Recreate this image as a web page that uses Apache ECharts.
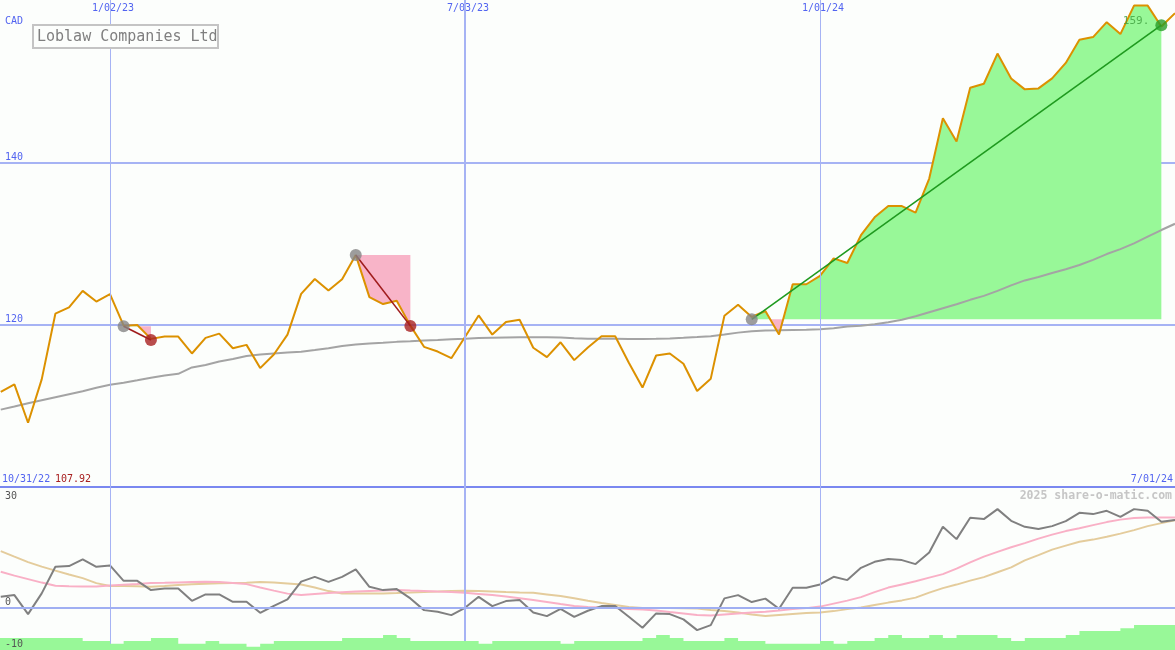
<!DOCTYPE html>
<html><head><meta charset="utf-8">
<script src="https://cdn.jsdelivr.net/npm/echarts@6/dist/echarts.min.js"></script>
<style>html,body{margin:0;padding:0;background:#fcfefc}#c{width:1175px;height:650px}</style>
</head><body><div id="c"></div>
<script>
const title = 'Loblaw Companies Ltd';
const currency = 'CAD';
const dateTickWeeks = [9, 35, 61];
const dateTickLabels = ['1/02/23', '7/03/23', '1/01/24'];
const rangeStartLabel = '10/31/22';
const rangeEndLabel = '7/01/24';
const lowPrice = 107.92;
const watermark = '2025 share-o-matic.com';
const oscTicks = [30, 0, -10];

// weekly close, weeks 1..87
const price = [
 111.71,112.65,107.92,113.26,121.35,122.12,124.16,122.85,123.76,119.88,
 119.96,118.25,118.53,118.53,116.45,118.37,118.90,117.10,117.51,114.65,
 116.33,118.78,123.80,125.63,124.20,125.60,128.57,123.39,122.54,122.94,
 119.88,117.27,116.69,115.87,118.49,121.14,118.78,120.33,120.61,117.15,
 116.00,117.83,115.63,117.18,118.57,118.57,115.31,112.25,116.20,116.45,
 115.19,111.83,113.35,121.10,122.45,120.94,121.68,118.78,124.98,124.98,
 126.00,128.17,127.59,131.02,133.23,134.61,134.61,133.80,138.00,145.44,
 142.57,149.19,149.68,153.40,150.34,148.99,149.11,150.34,152.25,155.11,
 155.43,157.27,155.80,159.31,159.31,156.74,158.37];
// long moving average of price
const priceMA = [
 109.53,109.92,110.32,110.69,111.06,111.43,111.79,112.22,112.59,112.84,
 113.14,113.45,113.75,113.94,114.73,115.04,115.47,115.77,116.14,116.33,
 116.45,116.57,116.67,116.88,117.10,117.37,117.55,117.67,117.77,117.88,
 117.95,118.04,118.10,118.19,118.25,118.35,118.38,118.41,118.44,118.44,
 118.44,118.41,118.32,118.25,118.25,118.25,118.22,118.22,118.25,118.31,
 118.38,118.47,118.57,118.78,119.02,119.20,119.27,119.30,119.34,119.38,
 119.45,119.57,119.76,119.88,120.06,120.31,120.61,121.04,121.53,122.02,
 122.51,123.06,123.55,124.16,124.84,125.45,125.88,126.37,126.82,127.35,
 127.99,128.70,129.31,130.02,130.84,131.66,132.43];
// lower panel indicator lines
const osc = [
 2.92,3.38,-1.76,3.84,11.03,11.22,13.03,11.03,11.41,7.24,
 7.24,4.73,5.19,5.19,1.84,3.57,3.57,1.57,1.57,-1.41,
 0.49,2.22,7.03,8.32,6.97,8.32,10.32,5.62,4.73,5.00,
 2.49,-0.68,-1.14,-2.03,-0.05,2.92,0.41,1.76,2.03,-1.30,
 -2.30,-0.32,-2.49,-0.86,0.41,0.41,-2.49,-5.46,-1.57,-1.76,
 -3.19,-6.08,-4.73,2.49,3.38,1.49,2.43,-0.32,5.35,5.35,
 6.27,8.32,7.43,10.76,12.38,13.11,12.84,11.76,14.92,21.84,
 18.51,24.27,23.92,26.62,23.46,21.84,21.22,22.03,23.38,25.62,
 25.27,26.16,24.54,26.62,26.16,23.19,23.65];
const oscFast = [
 9.68,8.65,7.70,6.76,5.89,5.76,5.68,5.73,5.95,6.16,
 6.35,6.62,6.70,6.81,6.89,6.97,6.89,6.62,6.35,5.41,
 4.59,3.78,3.38,3.65,3.92,4.14,4.32,4.46,4.59,4.73,
 4.59,4.46,4.32,4.19,4.00,3.70,3.38,2.97,2.51,2.03,
 1.49,0.95,0.46,0.14,0.00,-0.14,-0.35,-0.54,-0.81,-1.22,
 -1.62,-2.03,-2.16,-1.89,-1.62,-1.35,-1.14,-0.81,-0.41,-0.14,
 0.27,1.08,1.89,2.84,4.19,5.41,6.27,7.11,8.11,9.05,
 10.54,12.22,13.78,15.05,16.30,17.43,18.65,19.73,20.68,21.43,
 22.30,23.11,23.78,24.19,24.38,24.38,24.38];
const oscSlow = [
 15.27,13.78,12.30,11.08,10.00,8.97,7.97,6.62,5.86,5.81,
 5.76,5.65,5.81,6.08,6.30,6.46,6.57,6.62,6.70,6.89,
 6.81,6.54,6.22,5.41,4.46,3.84,3.84,3.84,3.84,3.92,
 4.05,4.19,4.32,4.46,4.54,4.46,4.32,4.19,4.08,4.00,
 3.57,3.11,2.51,1.84,1.22,0.68,0.14,-0.08,-0.14,-0.14,
 -0.19,-0.27,-0.62,-0.95,-1.35,-1.84,-2.30,-2.03,-1.76,-1.49,
 -1.30,-0.95,-0.41,0.00,0.68,1.35,1.95,2.70,4.05,5.27,
 6.22,7.30,8.24,9.54,10.86,12.76,14.19,15.68,16.76,17.78,
 18.38,19.14,20.00,20.95,22.03,22.84,23.65];
// relative weekly volume, weeks 0..86
const volume = [
 4,4,4,4,4,4,4,3,3,2.1,
 3,3,4,4,2.1,2.1,3,2.1,2.1,1.1,
 2.1,3,3,3,3,3,4,4,4,5,
 4,3,3,3,3,3,2.1,3,3,3,
 3,3,2.1,3,3,3,3,3,4,5,
 4,3,3,3,4,3,3,2.1,2.1,2.1,
 2.1,3,2.1,3,3,4,5,4,4,5,
 4,5,5,5,4,3,4,4,4,5,
 6.3,6.3,6.3,7.2,8.3,8.3,8.3];
// trades
const tradeEntryWeek = [10, 27, 56];
const tradeEntryPrice = [119.8, 128.58, 120.66];
const tradeExitWeek = [12, 31, 86];
const tradeExitPrice = [118.1, 119.85, 156.9];
const tradeExitLabel = ['', '', '159.'];

const X_MIN = 0.945, X_MAX = 87;
const MONO = 'DejaVu Sans Mono';
const BLUE = '#5264f0';
const GRID = '#a6b3f4';
const wk = i => i + 1;
const pairs = arr => arr.map((v, i) => [wk(i), v]);

const chart = echarts.init(document.getElementById('c'), null, {renderer: 'canvas'});

const series = [];
// vertical date lines (main)
series.push({
  type: 'line', xAxisIndex: 0, yAxisIndex: 0, data: [], z: 0, silent: true,
  markLine: {silent: true, symbol: 'none', label: {show: false}, animation: false,
    lineStyle: {color: GRID, width: 1, type: 'solid'},
    data: dateTickWeeks.map((w, k) => ({xAxis: w, lineStyle: {color: GRID, width: k === 1 ? 2 : 1, type: 'solid'}}))}
});
// trade fills
series.push({
  type: 'custom', xAxisIndex: 0, yAxisIndex: 0, z: 1, silent: true, clip: true,
  data: tradeEntryWeek.map((w, k) => [w, tradeExitWeek[k], tradeEntryPrice[k]]),
  encode: {x: [0, 1], y: 2},
  renderItem(params, api) {
    const s = api.value(0), e = api.value(1), base = api.value(2);
    const by = api.coord([s, base])[1];
    const up = [], dn = [];
    let prev = null;
    for (let w = s; w <= e; w++) {
      const p = api.coord([w, price[w - 1]]);
      if (prev && (prev[1] - by) * (p[1] - by) < 0) {
        const t = (by - prev[1]) / (p[1] - prev[1]);
        const cx = prev[0] + t * (p[0] - prev[0]);
        up.push([cx, by]); dn.push([cx, by]);
      }
      up.push([p[0], Math.min(p[1], by)]);
      dn.push([p[0], Math.max(p[1], by)]);
      prev = p;
    }
    const x0 = up[0][0], x1 = up[up.length - 1][0];
    return {type: 'group', children: [
      {type: 'polygon', shape: {points: up.concat([[x1, by], [x0, by]])}, style: {fill: '#98f898'}},
      {type: 'polygon', shape: {points: dn.concat([[x1, by], [x0, by]])}, style: {fill: '#f8b4c8'}}
    ]};
  }
});
series.push({type: 'line', xAxisIndex: 0, yAxisIndex: 0, data: pairs(priceMA), showSymbol: false, z: 3,
  lineStyle: {color: '#a4a4a4', width: 2}, silent: true});
series.push({type: 'line', xAxisIndex: 0, yAxisIndex: 0, data: pairs(price), showSymbol: false, z: 4,
  lineStyle: {color: '#dc9100', width: 2}, silent: true});
tradeEntryWeek.forEach((w, k) => {
  const win = tradeExitPrice[k] > tradeEntryPrice[k];
  series.push({type: 'line', xAxisIndex: 0, yAxisIndex: 0, showSymbol: false, z: 5, silent: true,
    data: [[w, tradeEntryPrice[k]], [tradeExitWeek[k], tradeExitPrice[k]]],
    lineStyle: {color: win ? '#1f9a1f' : '#a01c1c', width: 1.6}});
});
series.push({type: 'scatter', xAxisIndex: 0, yAxisIndex: 0, z: 6, silent: true, symbolSize: 12,
  itemStyle: {color: '#858585'},
  data: tradeEntryWeek.map((w, k) => [w, tradeEntryPrice[k]])});
series.push({type: 'scatter', xAxisIndex: 0, yAxisIndex: 0, z: 6, silent: true, symbolSize: 12,
  data: tradeExitWeek.map((w, k) => {
    const win = tradeExitPrice[k] > tradeEntryPrice[k];
    return {value: [w, tradeExitPrice[k]],
      itemStyle: {color: win ? '#2a9e2a' : '#a82020'},
      label: {show: !!tradeExitLabel[k], formatter: tradeExitLabel[k], position: 'left', distance: 6,
        offset: [0, -4], color: '#3f9f3f', fontFamily: MONO, fontSize: 11}};
  })});
// lower panel
series.push({
  type: 'line', xAxisIndex: 1, yAxisIndex: 1, data: [], z: 0, silent: true,
  markLine: {silent: true, symbol: 'none', label: {show: false}, animation: false,
    data: dateTickWeeks.map((w, k) => ({xAxis: w, lineStyle: {color: GRID, width: k === 1 ? 2 : 1, type: 'solid'}}))
      .concat([{yAxis: 0, lineStyle: {color: '#a0aff2', width: 2, type: 'solid'}}])}
});
series.push({type: 'line', xAxisIndex: 1, yAxisIndex: 1, data: pairs(oscSlow), showSymbol: false, z: 2,
  lineStyle: {color: '#e4cc9c', width: 2}, silent: true});
series.push({type: 'line', xAxisIndex: 1, yAxisIndex: 1, data: pairs(oscFast), showSymbol: false, z: 3,
  lineStyle: {color: '#f9b0c6', width: 2}, silent: true});
series.push({type: 'line', xAxisIndex: 1, yAxisIndex: 1, data: pairs(osc), showSymbol: false, z: 4,
  lineStyle: {color: '#808080', width: 2}, silent: true});
series.push({type: 'line', xAxisIndex: 1, yAxisIndex: 2, step: 'end', showSymbol: false, z: 5, silent: true,
  data: volume.map((v, i) => [i, v]).concat([[volume.length, volume[volume.length - 1]]]),
  lineStyle: {width: 0}, areaStyle: {color: '#98f898', opacity: 1, origin: 'start'}});

const option = {
  animation: false,
  backgroundColor: '#fcfefc',
  grid: [
    {left: 0, right: 0, top: 0, height: 487},
    {left: 0, right: 0, top: 487, bottom: 0}
  ],
  xAxis: [
    {gridIndex: 0, type: 'value', min: X_MIN, max: X_MAX, position: 'top',
      axisLine: {show: false}, axisTick: {show: false}, splitLine: {show: false},
      axisLabel: {inside: true, margin: 3, customValues: dateTickWeeks, color: BLUE, fontFamily: MONO, fontSize: 10,
        padding: [0, 0, 0, 6], formatter: v => dateTickLabels[dateTickWeeks.indexOf(v)] || ''}},
    {gridIndex: 1, type: 'value', min: X_MIN, max: X_MAX, position: 'top',
      axisLine: {show: true, onZero: false, lineStyle: {color: '#7a88f0', width: 2}},
      axisTick: {show: false}, splitLine: {show: false}, axisLabel: {show: false}}
  ],
  yAxis: [
    {gridIndex: 0, type: 'value', min: 100, max: 160, interval: 20,
      axisLine: {show: false}, axisTick: {show: false},
      splitLine: {show: true, showMinLine: false, showMaxLine: false, lineStyle: {color: GRID, width: 2}},
      axisLabel: {inside: true, margin: 5, showMinLabel: false, showMaxLabel: false, verticalAlign: 'bottom',
        color: BLUE, fontFamily: MONO, fontSize: 10}},
    {gridIndex: 1, type: 'value', min: -11.46, max: 32.6, z: 10,
      axisLine: {show: false}, axisTick: {show: false}, splitLine: {show: false},
      axisLabel: {inside: true, margin: 5, customValues: oscTicks, verticalAlign: 'middle',
        formatter: v => v === 0 ? '{z|0}' : '{n|' + v + '}',
        rich: {
          z: {fontFamily: MONO, fontSize: 10, color: '#555555', padding: [0, 0, 11, 0]},
          n: {fontFamily: MONO, fontSize: 10, color: '#555555'}
        }}},
    {gridIndex: 1, type: 'value', min: 0, max: 54, show: false}
  ],
  graphic: [
    {type: 'text', z: 20, style: {text: currency, x: 5, y: 21, verticalAlign: 'middle', fill: BLUE, font: '10px "DejaVu Sans Mono"'}},
    {type: 'rect', z: 20, shape: {x: 33, y: 25, width: 185, height: 23}, style: {fill: '#fcfefc', stroke: '#c4c4c4', lineWidth: 2}},
    {type: 'text', z: 21, style: {text: title, x: 37, y: 37, verticalAlign: 'middle', fill: '#7f7f7f', font: '15px "DejaVu Sans Mono"'}},
    {type: 'text', z: 20, style: {text: rangeStartLabel, x: 2, y: 479, verticalAlign: 'middle', fill: BLUE, font: '10px "DejaVu Sans Mono"'}},
    {type: 'text', z: 20, style: {text: lowPrice.toFixed(2), x: 55, y: 479, verticalAlign: 'middle', fill: '#a82020', font: '10px "DejaVu Sans Mono"'}},
    {type: 'text', z: 20, style: {text: rangeEndLabel, x: 1173, y: 479, align: 'right', verticalAlign: 'middle', fill: BLUE, font: '10px "DejaVu Sans Mono"'}},
    {type: 'text', z: 20, style: {text: watermark, x: 1172, y: 496, align: 'right', verticalAlign: 'middle', fill: '#c6c6c6', font: 'bold 11.5px "DejaVu Sans Mono"'}}
  ],
  series: series
};
chart.setOption(option);
</script></body></html>
